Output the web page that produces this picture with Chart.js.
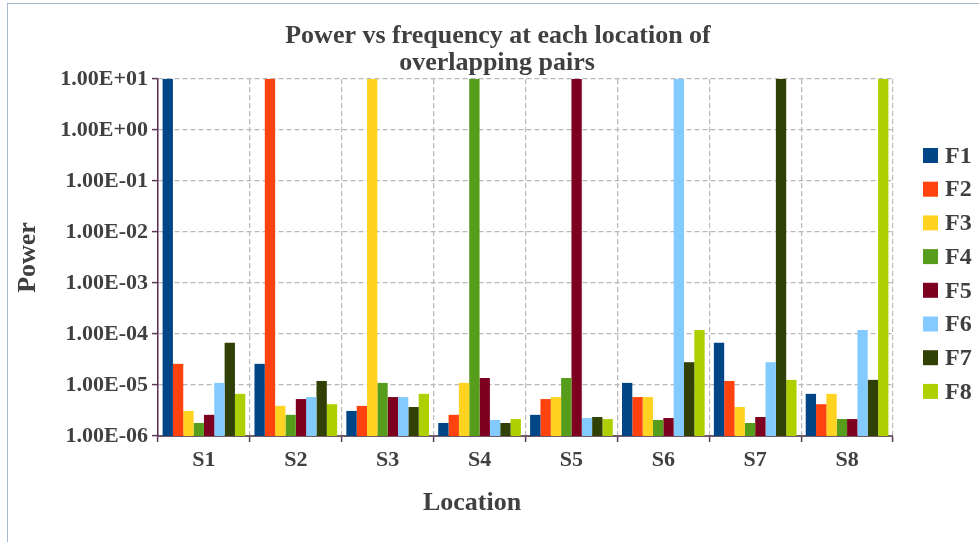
<!DOCTYPE html>
<html>
<head>
<meta charset="utf-8">
<title>Power vs frequency</title>
<script src="https://cdn.jsdelivr.net/npm/chart.js@4/dist/chart.umd.min.js"></script>
<style>
  html, body { margin: 0; padding: 0; background: #ffffff; overflow: hidden; }
  #wrap { position: relative; width: 979px; height: 542px; }
  #frame { position: absolute; left: 7px; top: 3px; width: 1000px; height: 600px;
           border: 1px solid #a7b8cf; box-sizing: border-box; }
  #chart { position: absolute; left: 0; top: 0; }
</style>
</head>
<body>
<div id="wrap">
  <div id="frame"></div>
  <canvas id="chart" width="979" height="542"></canvas>
</div>
<script>
// Locations and the power received at each one, per frequency
const locations = ['S1', 'S2', 'S3', 'S4', 'S5', 'S6', 'S7', 'S8'];
const seriesNames = ['F1', 'F2', 'F3', 'F4', 'F5', 'F6', 'F7', 'F8'];
const f1 = [10, 2.6e-5, 3.1e-6, 1.8e-6, 2.6e-6, 1.1e-5, 6.7e-5, 6.7e-6];
const f2 = [2.6e-5, 10, 3.9e-6, 2.6e-6, 5.3e-6, 5.8e-6, 1.2e-5, 4.2e-6];
const f3 = [3.1e-6, 3.9e-6, 10, 1.1e-5, 5.8e-6, 5.8e-6, 3.7e-6, 6.7e-6];
const f4 = [1.8e-6, 2.6e-6, 1.1e-5, 10, 1.37e-5, 2.06e-6, 1.8e-6, 2.15e-6];
const f5 = [2.6e-6, 5.3e-6, 5.8e-6, 1.37e-5, 10, 2.25e-6, 2.36e-6, 2.15e-6];
const f6 = [1.1e-5, 5.8e-6, 5.8e-6, 2.06e-6, 2.25e-6, 10, 2.8e-5, 1.2e-4];
const f7 = [6.7e-5, 1.2e-5, 3.7e-6, 1.8e-6, 2.36e-6, 2.8e-5, 10, 1.26e-5];
const f8 = [6.7e-6, 4.2e-6, 6.7e-6, 2.15e-6, 2.15e-6, 1.2e-4, 1.26e-5, 10];
const yTickValues = [1e-6, 1e-5, 1e-4, 1e-3, 1e-2, 1e-1, 1e0, 1e1];

const seriesValues = [f1, f2, f3, f4, f5, f6, f7, f8];
const palette = ['#004586', '#ff420e', '#ffd320', '#579d1c', '#7e0021', '#83caff', '#314004', '#aecf00'];

const SERIF = '"Liberation Serif", "Times New Roman", serif';
const TEXT = '#404040';

// 1.00E+01 style labels
function sci(v) {
  const exp = Math.round(Math.log10(v));
  const mant = v / Math.pow(10, exp);
  const sign = exp < 0 ? '-' : '+';
  const e = String(Math.abs(exp)).padStart(2, '0');
  return mant.toFixed(2) + 'E' + sign + e;
}

// Title, x-axis caption and legend
const captions = {
  id: 'captions',
  afterDraw(chart) {
    const ctx = chart.ctx;
    ctx.save();
    ctx.fillStyle = TEXT;
    ctx.textAlign = 'center';
    ctx.textBaseline = 'middle';
    ctx.font = 'bold 26px ' + SERIF;
    ctx.fillText('Power vs frequency at each location of', 498, 36);
    ctx.fillText('overlapping pairs', 497, 63);
    ctx.fillText('Location', 472, 503);

    ctx.font = 'bold 24px ' + SERIF;
    ctx.textAlign = 'left';
    chart.data.datasets.forEach((ds, i) => {
      const cy = 155.5 + i * 33.7;
      ctx.fillStyle = ds.backgroundColor;
      ctx.fillRect(923, cy - 7.5, 15, 15);
      ctx.fillStyle = TEXT;
      ctx.fillText(ds.label, 945, cy + 1);
    });
    ctx.restore();
  }
};

new Chart(document.getElementById('chart'), {
  type: 'bar',
  data: {
    labels: locations,
    datasets: seriesNames.map((name, i) => ({
      label: name,
      data: seriesValues[i],
      backgroundColor: palette[i],
      borderWidth: 0,
      categoryPercentage: 0.9,
      barPercentage: 1.0
    }))
  },
  options: {
    responsive: false,
    animation: false,
    layout: { padding: { top: 79, right: 86, left: 0, bottom: 0 } },
    plugins: {
      legend: { display: false },
      title: { display: false },
      tooltip: { enabled: false }
    },
    scales: {
      x: {
        afterFit(scale) { scale.height = 106; },
        grid: {
          color: '#b8b8b8', lineWidth: 1.2, offset: true,
          drawTicks: true, tickLength: 6, tickColor: '#5b3a56', tickWidth: 1.5, tickBorderDash: []
        },
        border: { color: '#6d5a6b', width: 2, dash: [5, 3] },
        ticks: {
          color: TEXT, padding: 5,
          font: { family: SERIF, size: 22, weight: 'bold' }
        }
      },
      y: {
        type: 'logarithmic',
        min: 1e-6,
        max: 10,
        afterFit(scale) { scale.width = 158; },
        afterBuildTicks(scale) { scale.ticks = yTickValues.map(v => ({ value: v })); },
        grid: {
          color: '#b8b8b8', lineWidth: 1.2,
          drawTicks: true, tickLength: 6, tickColor: '#5b3a56', tickWidth: 1.5, tickBorderDash: []
        },
        border: { color: '#5b2c52', width: 1.5, dash: [5, 3] },
        ticks: {
          color: TEXT, padding: 4,
          font: { family: SERIF, size: 22, weight: 'bold' },
          callback: (v) => sci(v)
        },
        title: {
          display: true, text: 'Power', color: TEXT,
          font: { family: SERIF, size: 26, weight: 'bold' },
          padding: { top: 13, bottom: 0 }
        }
      }
    }
  },
  plugins: [captions]
});
</script>
</body>
</html>
